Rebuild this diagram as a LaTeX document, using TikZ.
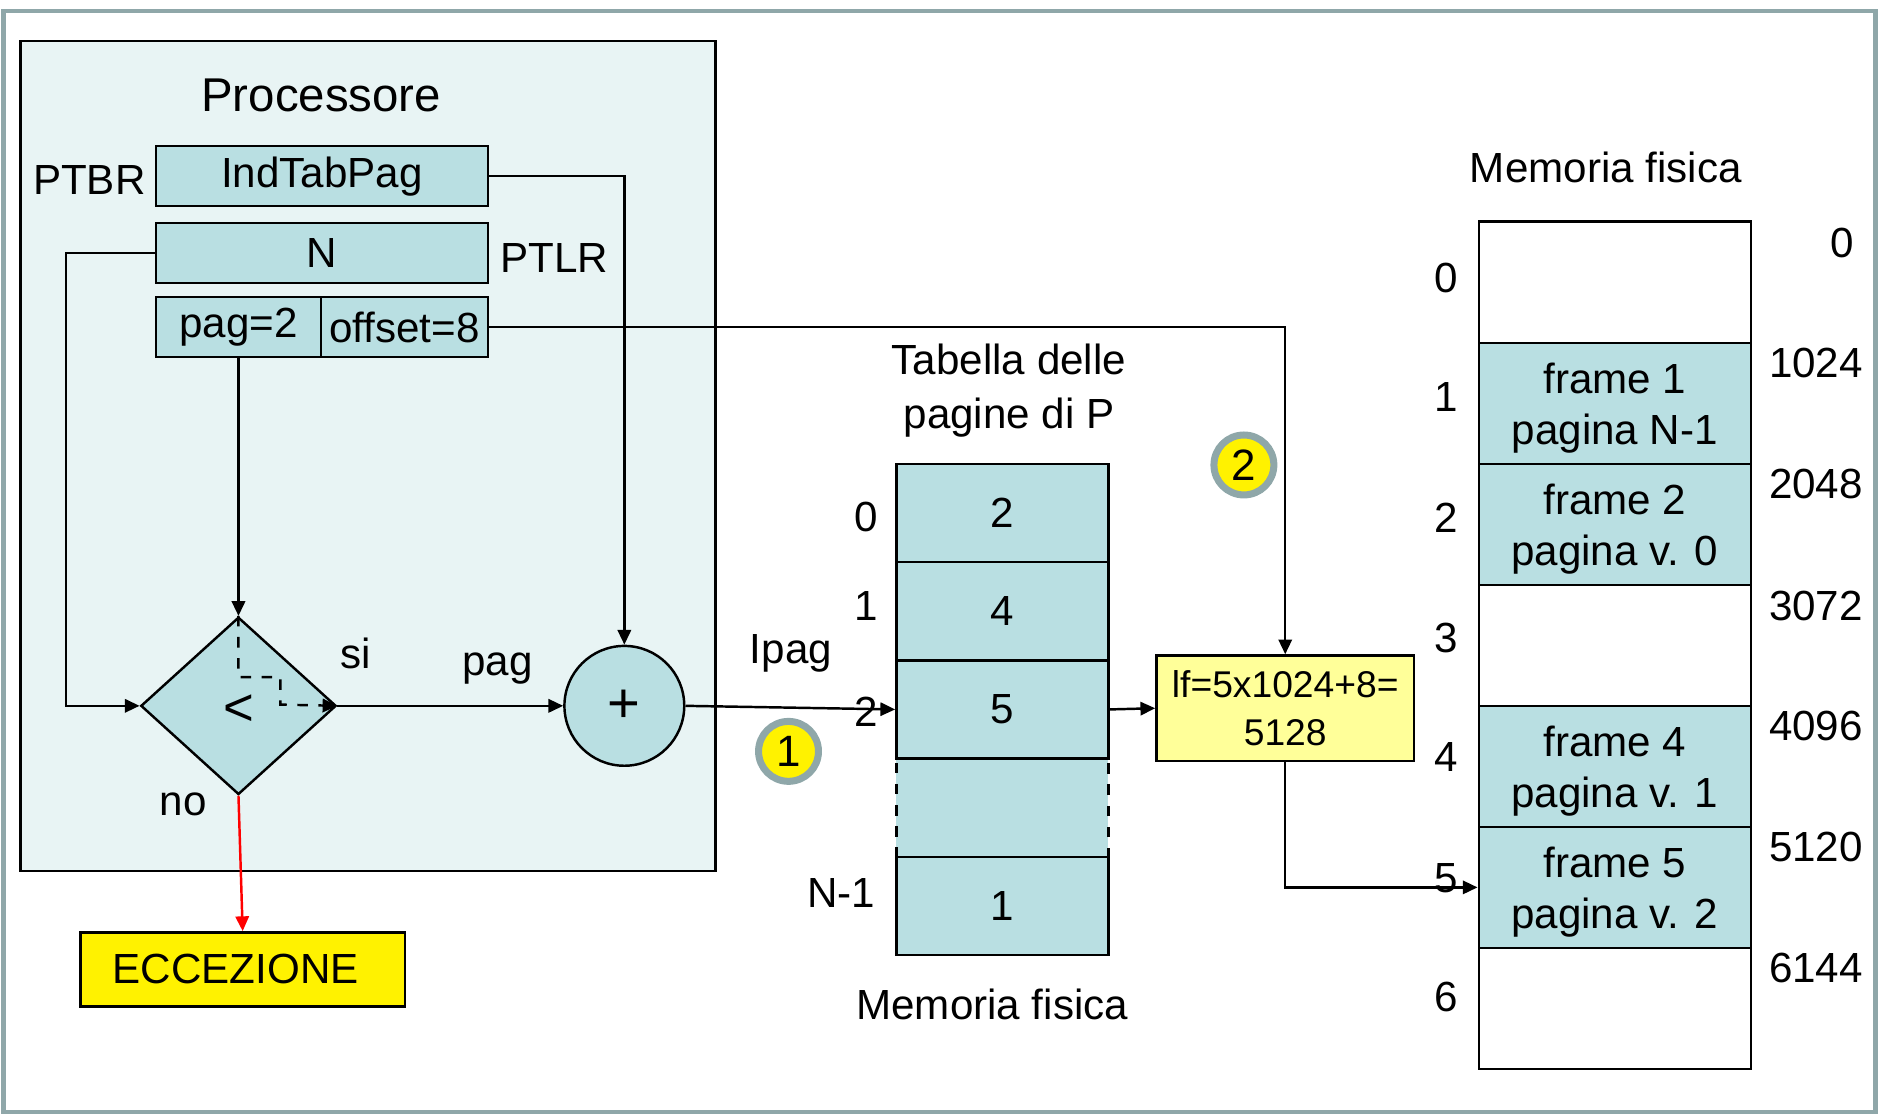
\documentclass[tikz,border=0pt]{standalone}
\usepackage{fontspec}
\setmainfont{Liberation Sans}
\usetikzlibrary{shapes.geometric,arrows.meta}
\definecolor{procfill}{HTML}{E8F4F4}
\definecolor{blkfill}{HTML}{B9DFE2}
\definecolor{frameg}{HTML}{8FA7A9}
\definecolor{lightyel}{HTML}{FFFF99}
\def\uu{0.012cm}
\tikzset{
  txt/.style={font=\fontsize{12}{14.3}\selectfont, inner sep=0pt, align=center},
  blk/.style={draw, line width=0.7pt, fill=blkfill, inner sep=0pt, font=\fontsize{12}{14.3}\selectfont, align=center},
  wblk/.style={blk, fill=white},
  arr/.style={line width=0.7pt, -{Triangle[length=4.2pt,width=3.8pt]}},
  numc/.style={circle, draw=frameg, line width=2pt, fill=yellow, minimum size={50*\uu}, inner sep=0pt, font=\fontsize{12.5}{14}\selectfont},
}
\begin{document}
\begin{tikzpicture}[x=0.012cm, y=-0.012cm]
\useasboundingbox (0,0) rectangle (1568,931);
% outer frame
\draw[frameg, line width=1.3pt] (3,9) rectangle (1565,928);
% processor box
\draw[line width=0.7pt, fill=procfill] (17,34) rectangle (597,727);
\node[txt, font=\fontsize{13.5}{16}\selectfont] (proc) at (268,80) {Processore};
\node[blk, minimum width={277*\uu}, minimum height={50*\uu}] (ind) at (268.5,147) {IndTabPag};
\node[txt, anchor=east] (ptbr) at (122,150) {PTBR};
\node[blk, minimum width={277*\uu}, minimum height={50*\uu}] (nreg) at (268.5,211) {N};
\node[txt, anchor=west] (ptlr) at (417,215) {PTLR};
\node[blk, minimum width={138*\uu}, minimum height={50*\uu}] (pag) at (199,273) {pag=2};
\node[blk, minimum width={139*\uu}, minimum height={50*\uu}] (off) at (337.5,273) {offset=8};
\node[diamond, draw, line width=0.7pt, fill=blkfill, inner sep=0pt, minimum width={163*\uu}, minimum height={148*\uu}] (dia) at (199,589) {};
\node[txt, font=\fontsize{15}{16}\selectfont] (lt) at (199,593) {<};
\node[circle, draw, line width=0.7pt, fill=blkfill, minimum size={100*\uu}, inner sep=0pt, font=\fontsize{16}{16}\selectfont] (plus) at (521,589) {+};
\node[txt] (si) at (297,545) {si};
\node[txt] (pagl) at (415,558) {pag};
\node[txt] (no) at (153,671) {no};
\node[blk, fill=yellow, minimum width={271*\uu}, minimum height={62*\uu}] (ecc) at (202.5,809) {\hspace*{-4pt}ECCEZIONE};
% page table
\node[blk, dashed, minimum width={177*\uu}, minimum height={82*\uu}] (tdash) at (836.5,674) {};
\node[blk, minimum width={177*\uu}, minimum height={82*\uu}] (t0) at (836.5,428) {2};
\node[blk, minimum width={177*\uu}, minimum height={82*\uu}] (t1) at (836.5,510) {4};
\node[blk, minimum width={177*\uu}, minimum height={82*\uu}] (t2) at (836.5,592) {5};
\node[blk, minimum width={177*\uu}, minimum height={82*\uu}] (tn) at (836.5,756) {1};
\node[txt] (ti0) at (723,431) {0};
\node[txt] (ti1) at (723,506) {1};
\node[txt] (ti2) at (723,594) {2};
\node[txt] (tin) at (702,745) {N-1};
\node[txt, font=\fontsize{12}{15.2}\selectfont] (ttit) at (842,326) {Tabella delle\\pagine di P};
\node[txt] (tmem) at (828,838) {Memoria fisica};
\node[txt] (ipag) at (660,545) {Ipag};
% lf box
\node[blk, fill=lightyel, minimum width={215*\uu}, minimum height={88*\uu}, font=\fontsize{10.6}{13.5}\selectfont] (lf) at (1072.5,591) {lf=5x1024+8=\\5128};
% physical memory
\node[txt] (mtit) at (1340,140) {Memoria fisica};
\node[wblk, minimum width={227*\uu}, minimum height={101*\uu}] (m0) at (1347.5,235.5) {};
\node[blk, minimum width={227*\uu}, minimum height={101*\uu}] (m1) at (1347.5,336.5) {};
\node[blk, minimum width={227*\uu}, minimum height={101*\uu}] (m2) at (1347.5,437.5) {};
\node[wblk, minimum width={227*\uu}, minimum height={101*\uu}] (m3) at (1347.5,538.5) {};
\node[blk, minimum width={227*\uu}, minimum height={101*\uu}] (m4) at (1347.5,639.5) {};
\node[blk, minimum width={227*\uu}, minimum height={101*\uu}] (m5) at (1347.5,740.5) {};
\node[wblk, minimum width={227*\uu}, minimum height={101*\uu}] (m6) at (1347.5,841.5) {};
\node[txt] (f1) at ([yshift=-4*\uu]m1.center) {frame 1\\pagina N-1};
\node[txt] (f2) at ([yshift=-4*\uu]m2.center) {frame 2\\pagina v. 0};
\node[txt] (f4) at ([yshift=-4*\uu]m4.center) {frame 4\\pagina v. 1};
\node[txt] (f5) at ([yshift=-4*\uu]m5.center) {frame 5\\pagina v. 2};
\node[txt] (mi0) at (1207,232) {0};
\node[txt] (mi1) at (1207,331) {1};
\node[txt] (mi2) at (1207,432) {2};
\node[txt] (mi3) at (1207,532) {3};
\node[txt] (mi4) at (1207,632) {4};
\node[txt] (mi5) at (1207,733) {5};
\node[txt] (mi6) at (1207,832) {6};
\node[txt, anchor=east] (ma0) at (1548,203) {0};
\node[txt, anchor=east] (ma1) at (1555,303) {1024};
\node[txt, anchor=east] (ma2) at (1555,404) {2048};
\node[txt, anchor=east] (ma3) at (1555,506) {3072};
\node[txt, anchor=east] (ma4) at (1555,606) {4096};
\node[txt, anchor=east] (ma5) at (1555,707) {5120};
\node[txt, anchor=east] (ma6) at (1555,808) {6144};
% numbered circles
\node[numc] (c1) at (658,627) {1};
\node[numc] (c2) at (1038,388) {2};
% connectors
\draw[arr] (ind.east) -| (plus.north);
\draw[arr] (nreg.west) -- ++(-74,0) |- (dia.west);
\draw[arr] (pag.south) -- (dia.north);
\draw[arr] (dia.east) -- (plus.west);
\draw[arr, dashed] (dia.north) -- ++(0,51) -- ++(35,0) -- ++(0,23) -- (dia.east);
\draw[arr, red] (dia.south) -- (ecc.north);
\draw[arr] (plus.east) -- (t2.west);
\draw[arr] (off.east) -| (lf.north);
\draw[arr] (t2.east) -- (lf.west);
\draw[arr] (lf.south) |- (m5.west);
\end{tikzpicture}
\end{document}
